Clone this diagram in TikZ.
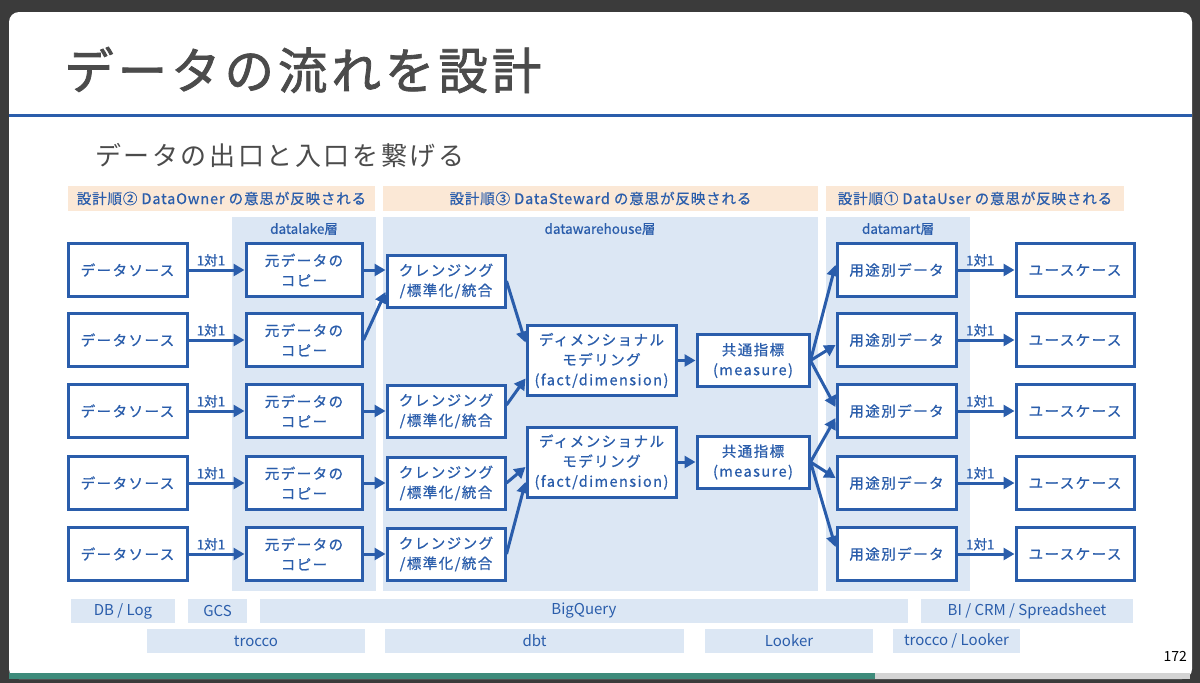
\documentclass[tikz,border=0pt]{standalone}
\usepackage{fontspec}
\setmainfont{Noto Sans CJK JP}
\newfontfamily\boxfont[LetterSpace=10, FakeBold=0.8]{Noto Sans CJK JP}
\newfontfamily\headfont[LetterSpace=6, FakeBold=0.6]{Noto Sans CJK JP}
\newfontfamily\plainfont[FakeBold=0.6]{Noto Sans CJK JP}
\newfontfamily\subfont[LetterSpace=10]{Noto Sans CJK JP}
\newfontfamily\titlefont[LetterSpace=8, FakeBold=1.6]{Noto Sans CJK JP}
\usetikzlibrary{arrows.meta}

\definecolor{lineblue}{HTML}{2A5DAB}
\definecolor{lanefill}{HTML}{DCE7F4}
\definecolor{peach}{HTML}{FBE8D6}
\definecolor{framegray}{HTML}{3B3B3B}
\definecolor{titlegray}{HTML}{4B4B4B}
\definecolor{barteal}{HTML}{3E8B7B}
\definecolor{barrest}{HTML}{D4D4D4}

\begin{document}
\begin{tikzpicture}[x=1pt, y=-1pt, >={Triangle[length=11pt,width=12pt]},
    box/.style={draw=lineblue, line width=3pt, fill=white, text=lineblue,
      font=\boxfont\fontsize{14.5}{20}\selectfont, align=center, inner sep=0pt,
      minimum height=53pt},
    flow/.style={->, draw=lineblue, line width=3pt},
    one/.style={above, pos=0.4, inner sep=2pt, text=lineblue,
      font=\plainfont\fontsize{13.5}{15}\selectfont},
    hdr/.style={fill=peach, text=lineblue, inner sep=0pt, minimum height=25pt,
      font=\headfont\fontsize{14.5}{16}\selectfont},
    tool/.style={fill=lanefill, text=lineblue, inner sep=0pt, minimum height=24pt,
      font=\fontsize{15}{17}\selectfont},
    lanelbl/.style={text=lineblue, inner sep=0pt, font=\plainfont\fontsize{13.5}{15}\selectfont}]
  \useasboundingbox (0,0) rectangle (1200,683);

  % Slide frame
  \fill[framegray] (0,0) rectangle (1200,683);
  \fill[white, rounded corners=10pt] (9,12) rectangle (1192,679);
  \fill[barteal] (9,673) rectangle (875,679);
  \fill[barrest] (875,673) rectangle (1190,679);
  \draw[lineblue, line width=3pt] (9,115) -- (1192,115);

  \node[anchor=west, inner sep=0pt, text=titlegray, font=\titlefont\fontsize{49.5}{51}\selectfont]
    (title) at (64,70) {データの流れを設計};
  \node[anchor=west, inner sep=0pt, text=titlegray, font=\subfont\fontsize{26}{28}\selectfont]
    (subtitle) at (95,155) {データの出口と入口を繋げる};
  \node[anchor=east, inner sep=0pt, font=\fontsize{14}{16}\selectfont] (pageno) at (1187,656) {172};

  % Who decides
  \node[hdr, minimum width=307pt] (hdrowner) at (221.5,198.5) {設計順② DataOwner の意思が反映される};
  \node[hdr, minimum width=435pt] (hdrsteward) at (600.5,198.5) {設計順③ DataSteward の意思が反映される};
  \node[hdr, minimum width=298pt] (hdruser) at (975,198.5) {設計順① DataUser の意思が反映される};

  % Layers
  \fill[lanefill] (232,217) rectangle (376,591);
  \fill[lanefill] (383,217) rectangle (818,591);
  \fill[lanefill] (826,217) rectangle (970,591);
  \node[lanelbl] (lakelbl) at (304,229) {datalake層};
  \node[lanelbl] (dwhlbl) at (600,229) {datawarehouse層};
  \node[lanelbl] (martlbl) at (898,229) {datamart層};

  % Sources and copies
  \node[box, minimum width=119pt] (src1) at (127.5,270) {データソース};
  \node[box, minimum width=119pt] (src2) at (127.5,340) {データソース};
  \node[box, minimum width=119pt] (src3) at (127.5,411) {データソース};
  \node[box, minimum width=119pt] (src4) at (127.5,483) {データソース};
  \node[box, minimum width=119pt] (src5) at (127.5,554) {データソース};
  \node[box, minimum width=116pt] (cp1) at (304,270) {元データの\\コピー};
  \node[box, minimum width=116pt] (cp2) at (304,340) {元データの\\コピー};
  \node[box, minimum width=116pt] (cp3) at (304,411) {元データの\\コピー};
  \node[box, minimum width=116pt] (cp4) at (304,483) {元データの\\コピー};
  \node[box, minimum width=116pt] (cp5) at (304,554) {元データの\\コピー};

  % Warehouse
  \node[box, minimum width=118pt, minimum height=52pt] (cl1) at (446,281) {クレンジング\\/標準化/統合};
  \node[box, minimum width=118pt, minimum height=52pt] (cl2) at (446,411) {クレンジング\\/標準化/統合};
  \node[box, minimum width=118pt, minimum height=52pt] (cl3) at (446,483) {クレンジング\\/標準化/統合};
  \node[box, minimum width=118pt, minimum height=52pt] (cl4) at (446,554) {クレンジング\\/標準化/統合};
  \node[box, minimum width=149pt, minimum height=70pt] (dm1) at (601.5,360.5) {ディメンショナル\\モデリング\\(fact/dimension)};
  \node[box, minimum width=149pt, minimum height=70pt] (dm2) at (601.5,462) {ディメンショナル\\モデリング\\(fact/dimension)};
  \node[box, minimum width=112pt, minimum height=52pt] (ms1) at (753,360.5) {共通指標\\(measure)};
  \node[box, minimum width=112pt, minimum height=52pt] (ms2) at (753,462) {共通指標\\(measure)};

  % Marts and use cases
  \node[box, minimum width=119pt] (pu1) at (896.5,270) {用途別データ};
  \node[box, minimum width=119pt] (pu2) at (896.5,340) {用途別データ};
  \node[box, minimum width=119pt] (pu3) at (896.5,411) {用途別データ};
  \node[box, minimum width=119pt] (pu4) at (896.5,483) {用途別データ};
  \node[box, minimum width=119pt] (pu5) at (896.5,554) {用途別データ};
  \node[box, minimum width=118pt] (uc1) at (1075,270) {ユースケース};
  \node[box, minimum width=118pt] (uc2) at (1075,340) {ユースケース};
  \node[box, minimum width=118pt] (uc3) at (1075,411) {ユースケース};
  \node[box, minimum width=118pt] (uc4) at (1075,483) {ユースケース};
  \node[box, minimum width=118pt] (uc5) at (1075,554) {ユースケース};

  % Flow of data
  \draw[flow] (src1) -- node[one] {1対1} (cp1);
  \draw[flow] (src2) -- node[one] {1対1} (cp2);
  \draw[flow] (src3) -- node[one] {1対1} (cp3);
  \draw[flow] (src4) -- node[one] {1対1} (cp4);
  \draw[flow] (src5) -- node[one] {1対1} (cp5);

  \draw[flow] (cp1.east) -- (cp1.east -| cl1.west);
  \draw[flow] (cp2.east) -- ([yshift=-11pt]cl1.west);
  \draw[flow] (cp3) -- (cl2);
  \draw[flow] (cp4) -- (cl3);
  \draw[flow] (cp5) -- (cl4);

  \draw[flow] (cl1.east) -- ([yshift=18pt]dm1.west);
  \draw[flow] ([yshift=6pt]cl2.east) -- ([yshift=-18pt]dm1.west);
  \draw[flow] (cl3.east) -- ([yshift=-5pt]dm2.west);
  \draw[flow] (cl4.east) -- ([yshift=-20pt]dm2.west);

  \draw[flow] (dm1) -- (ms1);
  \draw[flow] (dm2) -- (ms2);

  \draw[flow] (ms1.east) -- ([yshift=5pt]pu1.west);
  \draw[flow] (ms1.east) -- ([yshift=-5pt]pu2.west);
  \draw[flow] (ms1.east) -- ([yshift=4pt]pu3.west);
  \draw[flow] (ms2.east) -- ([yshift=-7pt]pu3.west);
  \draw[flow] (ms2.east) -- ([yshift=5pt]pu4.west);
  \draw[flow] (ms2.east) -- ([yshift=7pt]pu5.west);

  \draw[flow] (pu1) -- node[one] {1対1} (uc1);
  \draw[flow] (pu2) -- node[one] {1対1} (uc2);
  \draw[flow] (pu3) -- node[one] {1対1} (uc3);
  \draw[flow] (pu4) -- node[one] {1対1} (uc4);
  \draw[flow] (pu5) -- node[one] {1対1} (uc5);

  % Tools
  \node[tool, minimum width=104pt] (dblog) at (123,611) {DB / Log};
  \node[tool, minimum width=59pt] (gcs) at (217.5,611) {GCS};
  \node[tool, minimum width=648pt] (bq) at (584,611) {BigQuery};
  \node[tool, minimum width=212pt] (bi) at (1027,611) {BI / CRM / Spreadsheet};
  \node[tool, minimum width=218pt] (trocco) at (256,641) {trocco};
  \node[tool, minimum width=299pt] (dbt) at (534.5,641) {dbt};
  \node[tool, minimum width=168pt] (looker) at (789,641) {Looker};
  \node[tool, minimum width=127pt] (trlooker) at (956.5,641) {trocco / Looker};
\end{tikzpicture}
\end{document}
